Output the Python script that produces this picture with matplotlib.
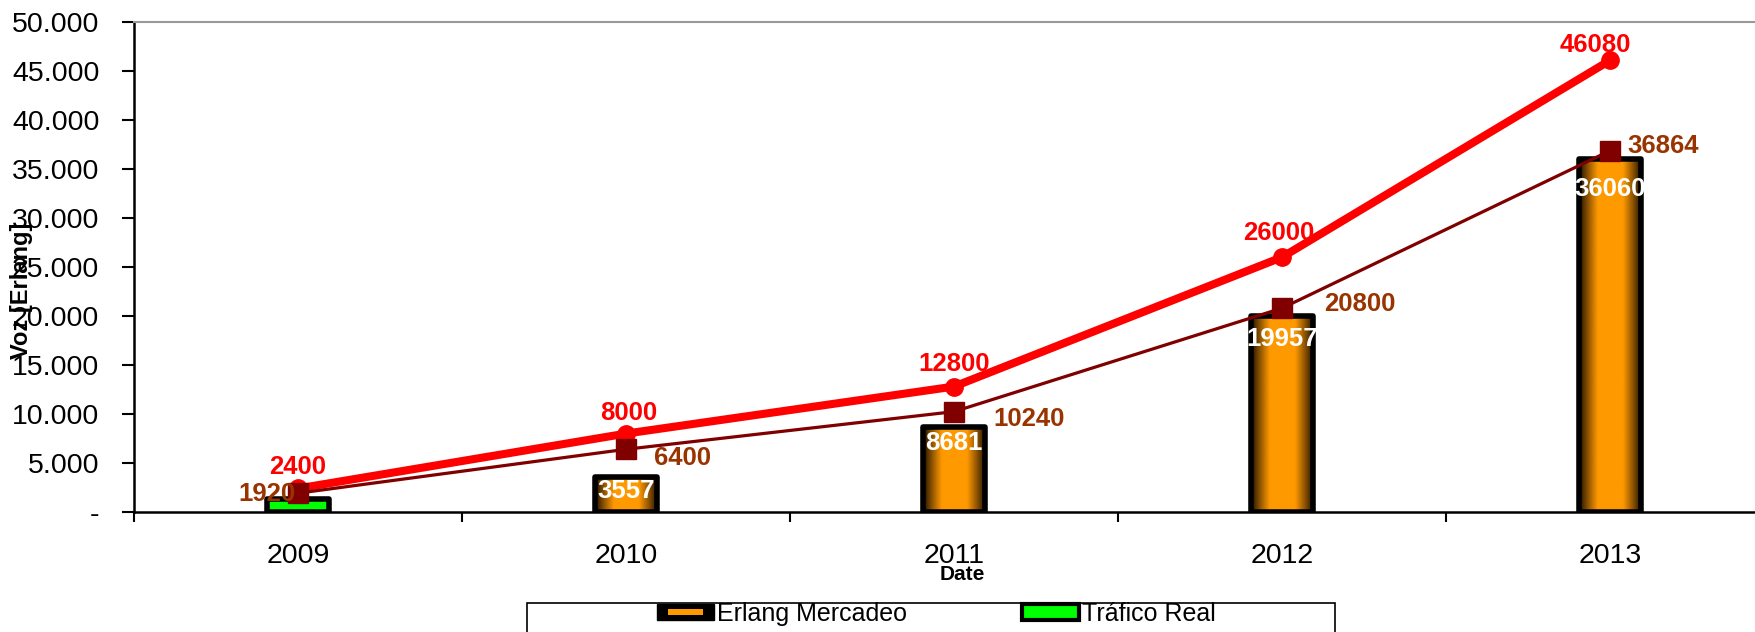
import numpy as np
import matplotlib
matplotlib.use("Agg")
import matplotlib.pyplot as plt
from matplotlib.patches import Rectangle
from matplotlib.legend_handler import HandlerBase
from matplotlib.ticker import FuncFormatter, FixedLocator

# Data
years = ["2009", "2010", "2011", "2012", "2013"]
erlang_mercadeo = [np.nan, 3557, 8681, 19957, 36060]   # orange bars
trafico_real = [1300, np.nan, np.nan, np.nan, np.nan]   # green bar
proyeccion_alta = [2400, 8000, 12800, 26000, 46080]     # red line
proyeccion_base = [1920, 6400, 10240, 20800, 36864]     # dark red line

# Label offsets in pixels (styling only)
red_off = [(0, 21), (3, 21), (0, 23), (-3, 24), (-15, 15)]
dark_off = [(-2, -1), (28, -9), (39, -7), (42, 4), (17, 5)]
bar_lab_off = [0, -2, -4, -11, -18]

ORANGE = np.array([1.0, 0.6, 0.0])
DARK = np.array([0.08, 0.04, 0.0])
BROWN = "#993300"

plt.rcParams["font.family"] = ["Liberation Sans", "DejaVu Sans"]

fig = plt.figure(figsize=(17.56, 6.32), dpi=100)
W, H = 1756, 632
ax = fig.add_axes([134 / W, 1 - 512 / H, 1640 / W, (512 - 22) / H])

x = np.arange(len(years))
bw = 0.19


def gradient_bar(ax, xc, h):
    t = np.linspace(0, 1, 200)
    d = np.abs(t - 0.5) * 2
    f = np.clip((1 - d) / 0.6, 0, 1) ** 0.9
    cols = DARK[None, :] + (ORANGE - DARK)[None, :] * f[:, None]
    img = cols[None, :, :]
    rect = Rectangle((xc - bw / 2, 0), bw, h, facecolor="none",
                     edgecolor="black", lw=4, joinstyle="round", zorder=3)
    ax.add_patch(rect)
    im = ax.imshow(img, extent=(xc - bw / 2, xc + bw / 2, 0, h),
                   aspect="auto", zorder=2, interpolation="bilinear")
    im.set_clip_path(rect)


for xi, v in zip(x, erlang_mercadeo):
    if not np.isnan(v):
        gradient_bar(ax, xi, v)

ax.bar(x, trafico_real, width=bw, color="#00FF00", edgecolor="black",
       lw=4, joinstyle="round", zorder=3)

# bar labels
for xi, v, dy in zip(x, erlang_mercadeo, bar_lab_off):
    if not np.isnan(v):
        ax.annotate(f"{int(v)}", (xi, v), xytext=(0, dy * 0.72),
                    textcoords="offset points", ha="center", va="top",
                    color="white", fontsize=18.5, fontweight="bold", zorder=6)

# lines
ax.plot(x, proyeccion_alta, color="#FF0000", lw=5.8, marker="o",
        markersize=12.5, zorder=4, solid_capstyle="round")
ax.plot(x, proyeccion_base, color="#800000", lw=2.3, marker="s",
        markersize=14, zorder=4)

for xi, v, (dx, dy) in zip(x, proyeccion_alta, red_off):
    ax.annotate(f"{v}", (xi, v), xytext=(dx * 0.72, dy * 0.72),
                textcoords="offset points", ha="center", va="center",
                color="#FF0000", fontsize=18.5, fontweight="bold", zorder=6)

for i, (xi, v, (dx, dy)) in enumerate(zip(x, proyeccion_base, dark_off)):
    ax.annotate(f"{v}", (xi, v), xytext=(dx * 0.72, dy * 0.72),
                textcoords="offset points", ha="right" if i == 0 else "left",
                va="center", color=BROWN, fontsize=18.5, fontweight="bold",
                zorder=5)

# axes formatting
ax.set_xlim(-0.5, 4.5)
ax.set_ylim(0, 50000)
ax.set_yticks(np.arange(0, 50001, 5000))
ax.yaxis.set_major_formatter(FuncFormatter(
    lambda v, p: "-" if v == 0 else f"{int(v):,}".replace(",", ".")))
ax.set_xticks(x)
ax.set_xticklabels(years)
ax.xaxis.set_minor_locator(FixedLocator(np.arange(-0.5, 5, 1)))
ax.tick_params(axis="x", which="major", length=0, pad=22, labelsize=20.5)
ax.tick_params(axis="x", which="minor", length=7, width=1.5, direction="out")
ax.tick_params(axis="y", length=9, width=1.5, pad=16, labelsize=20.5)

for s in ["left", "bottom"]:
    ax.spines[s].set_linewidth(1.8)
ax.spines["top"].set_color("#999999")
ax.spines["top"].set_linewidth(1.5)
ax.spines["right"].set_visible(False)

fig.text(22 / W, 1 - 291 / H, "Voz [Erlang]", rotation=90, ha="center",
         va="center", fontsize=17, fontweight="bold")
fig.text(962 / W, 1 - 575 / H, "Date", ha="center", va="center",
         fontsize=15, fontweight="bold")


# legend
class GradHandler(HandlerBase):
    def create_artists(self, legend, orig_handle, xdescent, ydescent,
                       width, height, fontsize, trans):
        outer = Rectangle((-xdescent, -ydescent), width, height,
                          facecolor="black", edgecolor="black", lw=1,
                          transform=trans)
        inner = Rectangle((-xdescent + width * 0.2, -ydescent + height * 0.3),
                          width * 0.6, height * 0.4, facecolor="#FF9900",
                          edgecolor="none", transform=trans)
        return [outer, inner]


class BoxHandler(HandlerBase):
    def create_artists(self, legend, orig_handle, xdescent, ydescent,
                       width, height, fontsize, trans):
        outer = Rectangle((-xdescent, -ydescent), width, height,
                          facecolor="#00FF00", edgecolor="black", lw=3,
                          transform=trans)
        return [outer]


h1 = Rectangle((0, 0), 1, 1)
h2 = Rectangle((0, 0), 1, 1)
leg = fig.legend([h1, h2], ["Erlang Mercadeo", "Tráfico Real"],
                 handler_map={h1: GradHandler(), h2: BoxHandler()},
                 loc="center", bbox_to_anchor=(936 / W, 1 - 614 / H),
                 ncol=2, frameon=False, handlelength=2.3, handleheight=0.6,
                 handletextpad=0.1, columnspacing=4.6,
                 prop={"family": ["Liberation Sans", "DejaVu Sans"],
                       "size": 18})
fig.patches.append(Rectangle((527 / W, -0.1), (1335 - 527) / W,
                             0.1 + 1 - 603 / H, transform=fig.transFigure,
                             fill=False, edgecolor="black", lw=1.2))

fig.savefig("out.png", dpi=100)
